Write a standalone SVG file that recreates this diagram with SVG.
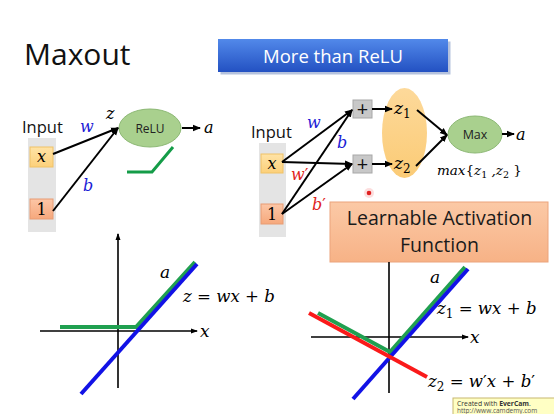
<svg xmlns="http://www.w3.org/2000/svg" width="554" height="414" viewBox="0 0 554 414">
<defs>
<style>
.sans{font-family:"Open Sans","Noto Sans","Liberation Sans",sans-serif;}
.math{font-family:"DejaVu Serif","Liberation Serif",serif;font-style:italic;}
.op{font-style:normal;}
.conn{stroke:#000;stroke-width:2;fill:none;marker-end:url(#ah);}
.axis{stroke:#000;stroke-width:1.6;fill:none;}
.blue{fill:#1c1cd6;}
.red{fill:#e0241c;}
.col{fill:#e4e4e4;}
.xbox{fill:url(#gx);stroke:#f0c266;stroke-width:1;}
.onebox{fill:url(#g1);stroke:#e89c74;stroke-width:1;}
.plus{fill:#c8c8c8;stroke:#a8a8a8;stroke-width:1;}
.act{fill:#a9d08e;stroke:#8cb874;stroke-width:1;}
.gl{stroke:#20a050;stroke-width:4;fill:none;}
.bl{stroke:#1212e6;stroke-width:4;fill:none;}
.rl{stroke:#fa1a1a;stroke-width:4;fill:none;}
</style>
<marker id="ah" markerWidth="8" markerHeight="8" refX="7" refY="4" orient="auto" markerUnits="userSpaceOnUse">
<path d="M0,0.8 L8,4 L0,7.2 Z" fill="#000"/>
</marker>
<marker id="axh" markerWidth="7" markerHeight="7" refX="6" refY="3.5" orient="auto" markerUnits="userSpaceOnUse">
<path d="M0,1 L7,3.5 L0,6 Z" fill="#000"/>
</marker>
<linearGradient id="gblue" x1="0" y1="0" x2="0" y2="1">
<stop offset="0" stop-color="#5289ea"/>
<stop offset="1" stop-color="#2351c2"/>
</linearGradient>
<linearGradient id="gx" x1="0" y1="0" x2="0" y2="1">
<stop offset="0" stop-color="#ffe3a6"/>
<stop offset="1" stop-color="#fcd07a"/>
</linearGradient>
<linearGradient id="g1" x1="0" y1="0" x2="0" y2="1">
<stop offset="0" stop-color="#fcc6a6"/>
<stop offset="1" stop-color="#f6a87c"/>
</linearGradient>
<linearGradient id="gorange" x1="0" y1="0" x2="0" y2="1">
<stop offset="0" stop-color="#fdd99a"/>
<stop offset="1" stop-color="#fbcb76"/>
</linearGradient>
<linearGradient id="glearn" x1="0" y1="0" x2="0" y2="1">
<stop offset="0" stop-color="#fbc9a6"/>
<stop offset="1" stop-color="#f7b286"/>
</linearGradient>
</defs>
<rect x="0" y="0" width="554" height="414" fill="#fff"/>

<g id="title">
<text class="sans" x="24" y="65" font-size="30" fill="#111">Maxout</text>
</g>

<g id="banner">
<rect x="219" y="40" width="230" height="33" fill="#2a4f9e" opacity="0.35" transform="translate(1.5,1.5)"/>
<rect x="218" y="39" width="230" height="33" fill="url(#gblue)"/>
<text class="sans" x="333" y="62.5" font-size="18.5" fill="#fff" text-anchor="middle">More than ReLU</text>
</g>

<!-- Left network -->
<g id="left-input">
<text class="sans" x="22" y="133" font-size="16.5" fill="#111">Input</text>
<rect class="col" x="28" y="138" width="28" height="94"/>
</g>
<g id="left-x">
<rect class="xbox" x="30" y="147" width="23" height="20"/>
<text class="math" x="41.5" y="162" font-size="16" text-anchor="middle">x</text>
</g>
<g id="left-one">
<rect class="onebox" x="30" y="199" width="23" height="20"/>
<text class="math" x="41.5" y="215" font-size="16" text-anchor="middle" style="font-style:normal">1</text>
</g>
<g id="relu">
<ellipse class="act" cx="150" cy="128" rx="31" ry="19"/>
<text class="sans" x="150" y="132.5" font-size="12" fill="#222" text-anchor="middle">ReLU</text>
</g>
<g id="left-labels">
<text class="math blue" x="80" y="132" font-size="16">w</text>
<text class="math blue" x="83" y="191" font-size="16">b</text>
<text class="math" x="106" y="119" font-size="16">z</text>
<text class="math" x="204" y="133" font-size="16">a</text>
</g>
<g id="relu-icon">
<polyline points="127,172 152,172 173,147" stroke="#149c48" stroke-width="3" fill="none"/>
</g>

<!-- Right network -->
<g id="right-input">
<text class="sans" x="251" y="137.5" font-size="16.5" fill="#111">Input</text>
<rect class="col" x="259" y="143" width="27" height="94"/>
</g>
<g id="right-x">
<rect class="xbox" x="261" y="154" width="22" height="19"/>
<text class="math" x="272" y="168.5" font-size="16" text-anchor="middle">x</text>
</g>
<g id="right-one">
<rect class="onebox" x="261" y="204" width="22" height="20"/>
<text class="math" x="272" y="220" font-size="16" text-anchor="middle" style="font-style:normal">1</text>
</g>
<g id="plus1">
<rect class="plus" x="353" y="100" width="19" height="18"/>
<text class="sans" x="362.5" y="116" font-size="20" fill="#111" text-anchor="middle">+</text>
</g>
<g id="plus2">
<rect class="plus" x="353" y="155" width="19" height="18"/>
<text class="sans" x="362.5" y="171" font-size="20" fill="#111" text-anchor="middle">+</text>
</g>
<g id="z-group">
<ellipse cx="404.5" cy="133" rx="22.5" ry="45" fill="url(#gorange)"/>
<text class="math" x="394" y="114" font-size="17">z<tspan font-size="12" dy="4" style="font-style:normal">1</tspan></text>
<text class="math" x="394" y="169" font-size="17">z<tspan font-size="12" dy="4" style="font-style:normal">2</tspan></text>
</g>
<g id="max">
<ellipse class="act" cx="475" cy="134.5" rx="27" ry="18.5"/>
<text class="sans" x="475" y="139" font-size="12.5" fill="#222" text-anchor="middle">Max</text>
</g>
<g id="right-labels">
<text class="math blue" x="307" y="128" font-size="16">w</text>
<text class="math blue" x="337" y="148" font-size="16">b</text>
<text class="math red" x="291" y="180" font-size="16">w<tspan class="op">′</tspan></text>
<text class="math red" x="312" y="210" font-size="16">b<tspan class="op">′</tspan></text>
<text class="math" x="516" y="139.5" font-size="16">a</text>
<text class="math" x="437" y="175" font-size="13.5">max<tspan style="font-style:normal">{</tspan>z<tspan font-size="9.5" dy="3" style="font-style:normal">1</tspan><tspan dy="-3"> ,</tspan>z<tspan font-size="9.5" dy="3" style="font-style:normal">2</tspan><tspan dy="-3" style="font-style:normal"> }</tspan></text>
</g>
<g id="cursor">
<circle cx="369" cy="193" r="5" fill="#fbd0d0" opacity="0.7"/>
<circle cx="369" cy="193" r="2.3" fill="#e02020"/>
</g>

<g id="connectors">
<path class="conn" d="M53,154 L118,128"/>
<path class="conn" d="M53,211 L118,128"/>
<path class="conn" d="M182,128 L200,128"/>
<path class="conn" d="M282,162 L352,110"/>
<path class="conn" d="M282,162 L352,164"/>
<path class="conn" d="M282,214 L352,110"/>
<path class="conn" d="M282,214 L352,164"/>
<path class="conn" d="M372,109 L392,109"/>
<path class="conn" d="M372,164 L392,164"/>
<path class="conn" d="M417,110 L447,135"/>
<path class="conn" d="M416,166 L447,135"/>
<path class="conn" d="M502,134 L514,134"/>
</g>

<g id="learnable">
<rect x="330" y="202" width="218" height="60" fill="url(#glearn)" stroke="#eba47c" stroke-width="1"/>
<text class="sans" x="439.5" y="225" font-size="19.5" fill="#1a1a1a" text-anchor="middle">Learnable Activation</text>
<text class="sans" x="439.5" y="252" font-size="19.5" fill="#1a1a1a" text-anchor="middle">Function</text>
</g>

<!-- Left plot -->
<g id="plot-left">
<path class="axis" d="M118,388 L118,234" marker-end="url(#axh)"/>
<path class="axis" d="M40,331 L197,331" marker-end="url(#axh)"/>
<polyline class="gl" points="60,327 136,327 195,262"/>
<line class="bl" x1="81" y1="394" x2="197" y2="264"/>
<text class="math" x="200" y="337" font-size="17">x</text>
<text class="math" x="160" y="278" font-size="17">a</text>
<text class="math" x="183" y="302" font-size="16.6">z <tspan class="op">=</tspan> wx <tspan class="op">+</tspan> b</text>
</g>

<!-- Right plot -->
<g id="plot-right">
<path class="axis" d="M389,393 L389,262"/>
<path class="axis" d="M311,337 L468,337" marker-end="url(#axh)"/>
<polyline class="gl" points="318,313 390,352 465,267"/>
<line class="bl" x1="353" y1="399" x2="468" y2="269"/>
<line class="rl" x1="309" y1="313" x2="427" y2="377"/>
<text class="math" x="470" y="343" font-size="17">x</text>
<text class="math" x="430" y="283" font-size="17">a</text>
<text class="math" x="437" y="314" font-size="16.6">z<tspan font-size="12" dy="4" class="op">1</tspan><tspan dy="-4"> </tspan><tspan class="op">=</tspan> wx <tspan class="op">+</tspan> b</text>
<text class="math" x="428" y="387" font-size="16.6">z<tspan font-size="12" dy="4" class="op">2</tspan><tspan dy="-4"> </tspan><tspan class="op">=</tspan> w<tspan class="op">′</tspan>x <tspan class="op">+</tspan> b<tspan class="op">′</tspan></text>
</g>

<g id="watermark">
<rect x="453" y="398" width="104" height="20" fill="#ffffc4" stroke="#c8b870" stroke-width="1"/>
<text class="sans" x="457" y="405.5" font-size="6.8" fill="#333">Created with <tspan font-weight="bold">EverCam</tspan>.</text>
<text class="sans" x="457" y="413" font-size="6.5" fill="#555">http://www.camdemy.com</text>
</g>
</svg>
